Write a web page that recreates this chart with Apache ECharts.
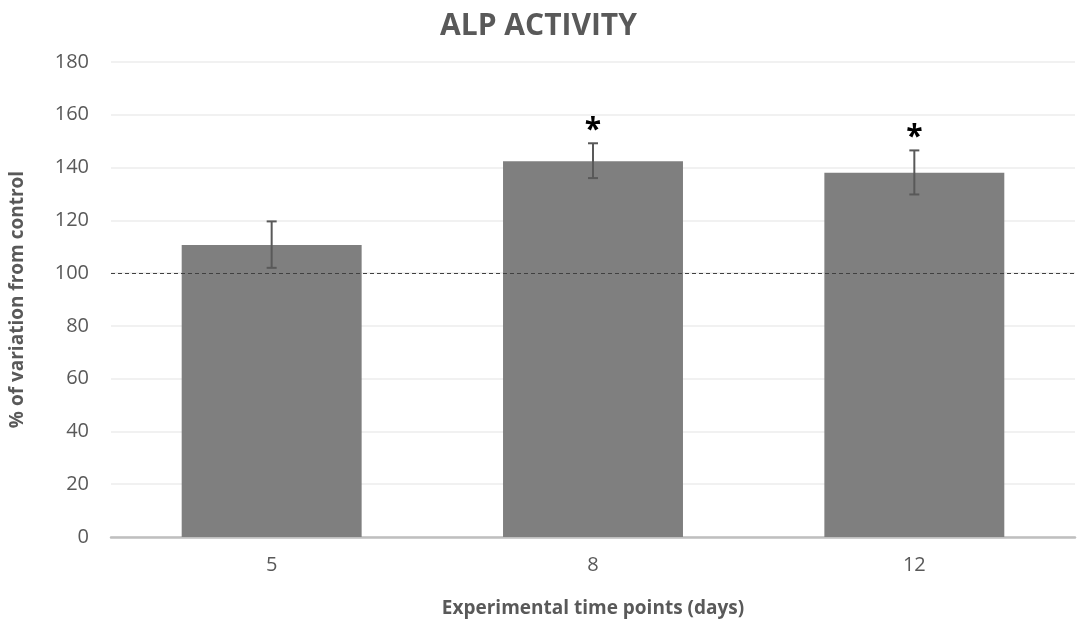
<!DOCTYPE html>
<html>
<head>
<meta charset="utf-8">
<script src="https://cdn.jsdelivr.net/npm/echarts@6/dist/echarts.min.js"></script>
<style>
  html, body { margin: 0; padding: 0; background: #fff; }
  #chart { width: 1077px; height: 623px; }
</style>
</head>
<body>
<div id="chart"></div>
<script>
// data
const days = ["5", "8", "12"];
const meanValues = [110.7, 142.4, 138];
const errLow = [102, 136, 129.8];
const errHigh = [119.6, 149.2, 146.5];
const stars = ["", "*", "*"];
const controlLevel = 100;

const font = "'Open Sans', 'Noto Sans', sans-serif";
const textGrey = "#595959";

const chart = echarts.init(document.getElementById("chart"));

chart.setOption({
  animation: false,
  title: {
    text: "ALP ACTIVITY",
    left: "center",
    top: 6,
    textStyle: {
      color: textGrey,
      fontFamily: font,
      fontWeight: "bold",
      fontSize: 30,
    },
  },
  grid: {
    left: 111,
    right: 2,
    top: 62,
    bottom: 81,
  },
  xAxis: {
    type: "category",
    data: days,
    name: "Experimental time points (days)",
    nameLocation: "middle",
    nameGap: 62,
    nameTextStyle: {
      color: textGrey,
      fontFamily: font,
      fontWeight: "bold",
      fontSize: 19,
    },
    axisLine: { lineStyle: { color: "#bfbfbf", width: 2.5 } },
    axisTick: { show: false },
    axisLabel: {
      color: textGrey,
      fontFamily: font,
      fontSize: 20,
      margin: 18,
    },
  },
  yAxis: {
    type: "value",
    min: 0,
    max: 180,
    interval: 20,
    name: "% of variation from control",
    nameLocation: "middle",
    nameGap: 84,
    nameTextStyle: {
      color: textGrey,
      fontFamily: font,
      fontWeight: "bold",
      fontSize: 19,
    },
    axisLine: { show: false },
    axisTick: { show: false },
    axisLabel: {
      color: textGrey,
      fontFamily: font,
      fontSize: 20,
      margin: 22,
    },
    splitLine: { lineStyle: { color: "#ececec", width: 1.5 } },
  },
  series: [
    {
      type: "bar",
      data: meanValues,
      barWidth: "56%",
      itemStyle: { color: "#7f7f7f" },
      markLine: {
        silent: true,
        symbol: "none",
        label: { show: false },
        lineStyle: { color: "#404040", type: [4, 3], width: 1 },
        data: [{ yAxis: controlLevel }],
      },
    },
    {
      type: "custom",
      data: days.map((d, i) => [i, errLow[i], errHigh[i]]),
      z: 10,
      renderItem: function (params, api) {
        const i = api.value(0);
        const lo = api.coord([i, api.value(1)]);
        const hi = api.coord([i, api.value(2)]);
        const cap = 5;
        const style = { stroke: "#595959", lineWidth: 2 };
        const children = [
          { type: "line", shape: { x1: lo[0], y1: lo[1], x2: hi[0], y2: hi[1] }, style: style },
          { type: "line", shape: { x1: hi[0] - cap, y1: hi[1], x2: hi[0] + cap, y2: hi[1] }, style: style },
          { type: "line", shape: { x1: lo[0] - cap, y1: lo[1], x2: lo[0] + cap, y2: lo[1] }, style: style },
        ];
        if (stars[i]) {
          children.push({
            type: "text",
            style: {
              text: stars[i],
              x: hi[0],
              y: hi[1] + 2,
              textAlign: "center",
              textVerticalAlign: "bottom",
              fill: "#000",
              font: "bold 30px " + font,
            },
          });
        }
        return { type: "group", children: children };
      },
    },
  ],
});
</script>
</body>
</html>
